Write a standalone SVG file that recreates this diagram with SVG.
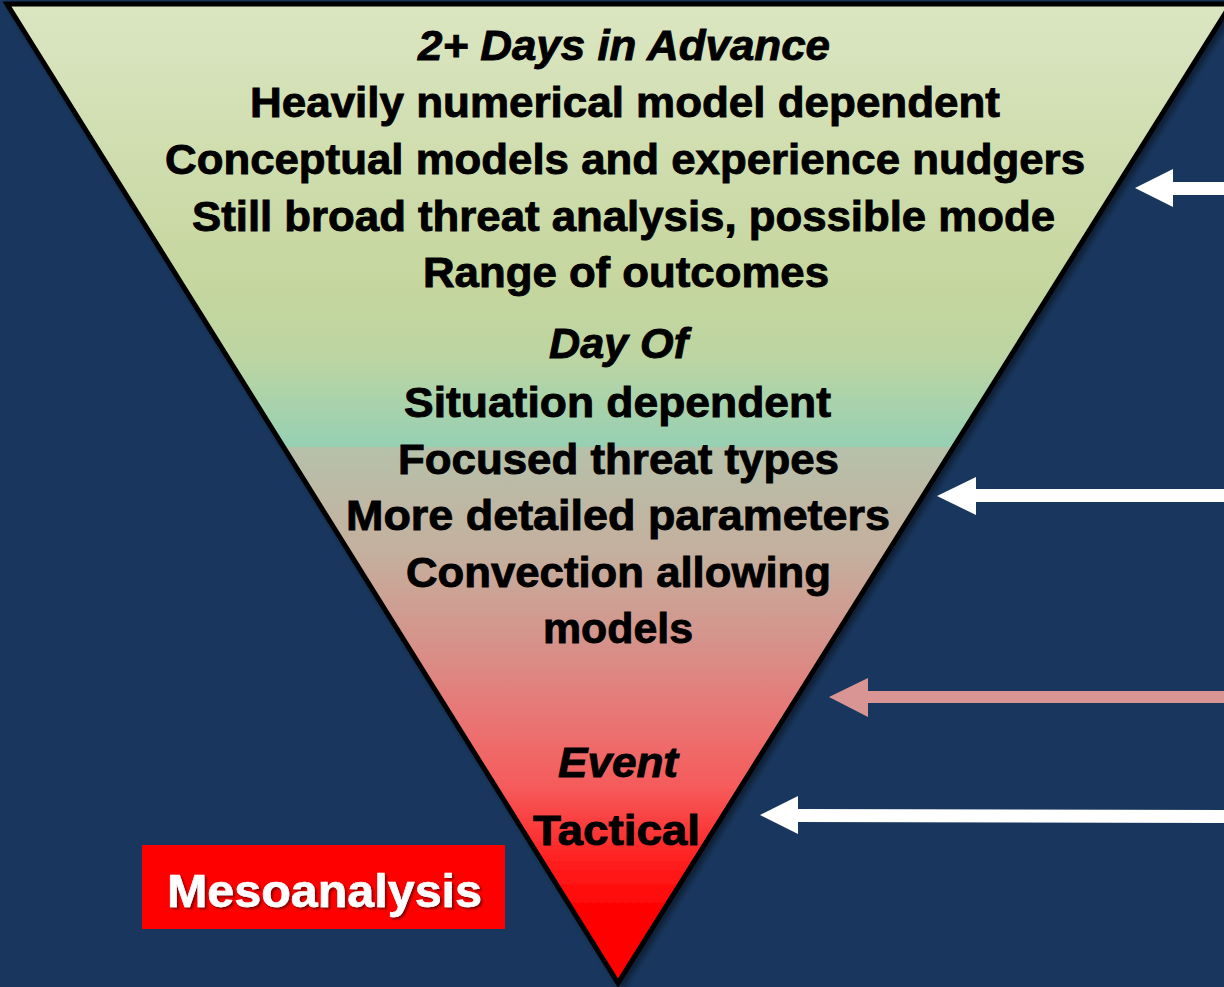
<svg xmlns="http://www.w3.org/2000/svg" width="1224" height="987" viewBox="0 0 1224 987">
  <style>
    .t { font-family: "Liberation Sans", Arial, sans-serif; font-weight: bold; font-size: 43px; fill: #000; stroke: #000; stroke-width: 0.9px; }
    .i { font-style: italic; }
    .arrow-w { fill: #ffffff; }
    .arrow-p { fill: #d99594; }
    .label { font-family: "Liberation Sans", Arial, sans-serif; font-weight: bold; font-size: 46px; fill: #ffffff; stroke: #ffffff; stroke-width: 0.6px; }
  </style>
  <defs>
    <linearGradient id="funnelFill" gradientUnits="userSpaceOnUse" x1="0" y1="4" x2="0" y2="983">
      <stop offset="0" stop-color="#dbe6c2"/>
      <stop offset="0.29" stop-color="#c5d69e"/>
      <stop offset="0.36" stop-color="#bdd5a2"/>
      <stop offset="0.452" stop-color="#96d0b3"/>
      <stop offset="0.452" stop-color="#b6c1aa"/>
      <stop offset="0.56" stop-color="#c4b09e"/>
      <stop offset="0.65" stop-color="#d5938b"/>
      <stop offset="0.73" stop-color="#e97574"/>
      <stop offset="0.80" stop-color="#f65b5b"/>
      <stop offset="0.88" stop-color="#ff1c1c"/>
      <stop offset="0.93" stop-color="#ff0000"/>
      <stop offset="1" stop-color="#ff0000"/>
    </linearGradient>
    <filter id="edgeShadow" x="-5%" y="-5%" width="110%" height="110%">
      <feDropShadow dx="4" dy="3" stdDeviation="3" flood-color="#000" flood-opacity="0.45"/>
    </filter>
    <filter id="labelShadow" x="-5%" y="-10%" width="110%" height="130%">
      <feDropShadow dx="2" dy="2" stdDeviation="0.8" flood-color="#7a0000" flood-opacity="0.9"/>
    </filter>
  </defs>

  <!-- background -->
  <rect x="0" y="0" width="1224" height="987" fill="#19375e"/>

  <!-- inverted funnel -->
  <g id="funnel">
    <polygon points="7,4 1231,4 618,983" fill="url(#funnelFill)" stroke="#000" stroke-width="5" stroke-linejoin="miter" filter="url(#edgeShadow)"/>
  </g>

  <!-- stage 1 -->
  <g id="stage-advance">
    <text class="t i" x="418" y="60" textLength="412" lengthAdjust="spacingAndGlyphs">2+ Days in Advance</text>
    <text class="t" x="250" y="117" textLength="750" lengthAdjust="spacingAndGlyphs">Heavily numerical model dependent</text>
    <text class="t" x="165" y="174" textLength="920" lengthAdjust="spacingAndGlyphs">Conceptual models and experience nudgers</text>
    <text class="t" x="192" y="231" textLength="863" lengthAdjust="spacingAndGlyphs">Still broad threat analysis, possible mode</text>
    <text class="t" x="423" y="287" textLength="406" lengthAdjust="spacingAndGlyphs">Range of outcomes</text>
  </g>

  <!-- stage 2 -->
  <g id="stage-day-of">
    <text class="t i" x="549" y="358" textLength="139" lengthAdjust="spacingAndGlyphs">Day Of</text>
    <text class="t" x="404" y="417" textLength="427" lengthAdjust="spacingAndGlyphs">Situation dependent</text>
    <text class="t" x="398" y="474" textLength="441" lengthAdjust="spacingAndGlyphs">Focused threat types</text>
    <text class="t" x="346" y="530" textLength="544" lengthAdjust="spacingAndGlyphs">More detailed parameters</text>
    <text class="t" x="406" y="587" textLength="425" lengthAdjust="spacingAndGlyphs">Convection allowing</text>
    <text class="t" x="543" y="643" textLength="150" lengthAdjust="spacingAndGlyphs">models</text>
  </g>

  <!-- stage 3 -->
  <g id="stage-event">
    <text class="t i" x="558" y="777" textLength="120" lengthAdjust="spacingAndGlyphs">Event</text>
    <text class="t" x="533" y="845" textLength="167" lengthAdjust="spacingAndGlyphs">Tactical</text>
  </g>

  <!-- label box -->
  <g id="mesoanalysis">
    <rect x="142" y="845" width="363" height="84" fill="#ff0000"/>
    <text class="label" x="167" y="907" textLength="315" lengthAdjust="spacingAndGlyphs" filter="url(#labelShadow)">Mesoanalysis</text>
  </g>

  <!-- arrows pointing into the funnel -->
  <g id="connectors">
    <polygon class="arrow-w" points="1135,188 1173,169 1173,182 1224,182 1224,195 1173,195 1173,207"/>
    <polygon class="arrow-w" points="937,496 976,477 976,489 1224,489 1224,502 976,502 976,515"/>
    <polygon class="arrow-p" points="829,697 868,678 868,691 1224,691 1224,703 868,703 868,717"/>
    <polygon class="arrow-w" points="760,815 798,796 798,809 1224,810 1224,823 798,822 798,834"/>
  </g>
</svg>
